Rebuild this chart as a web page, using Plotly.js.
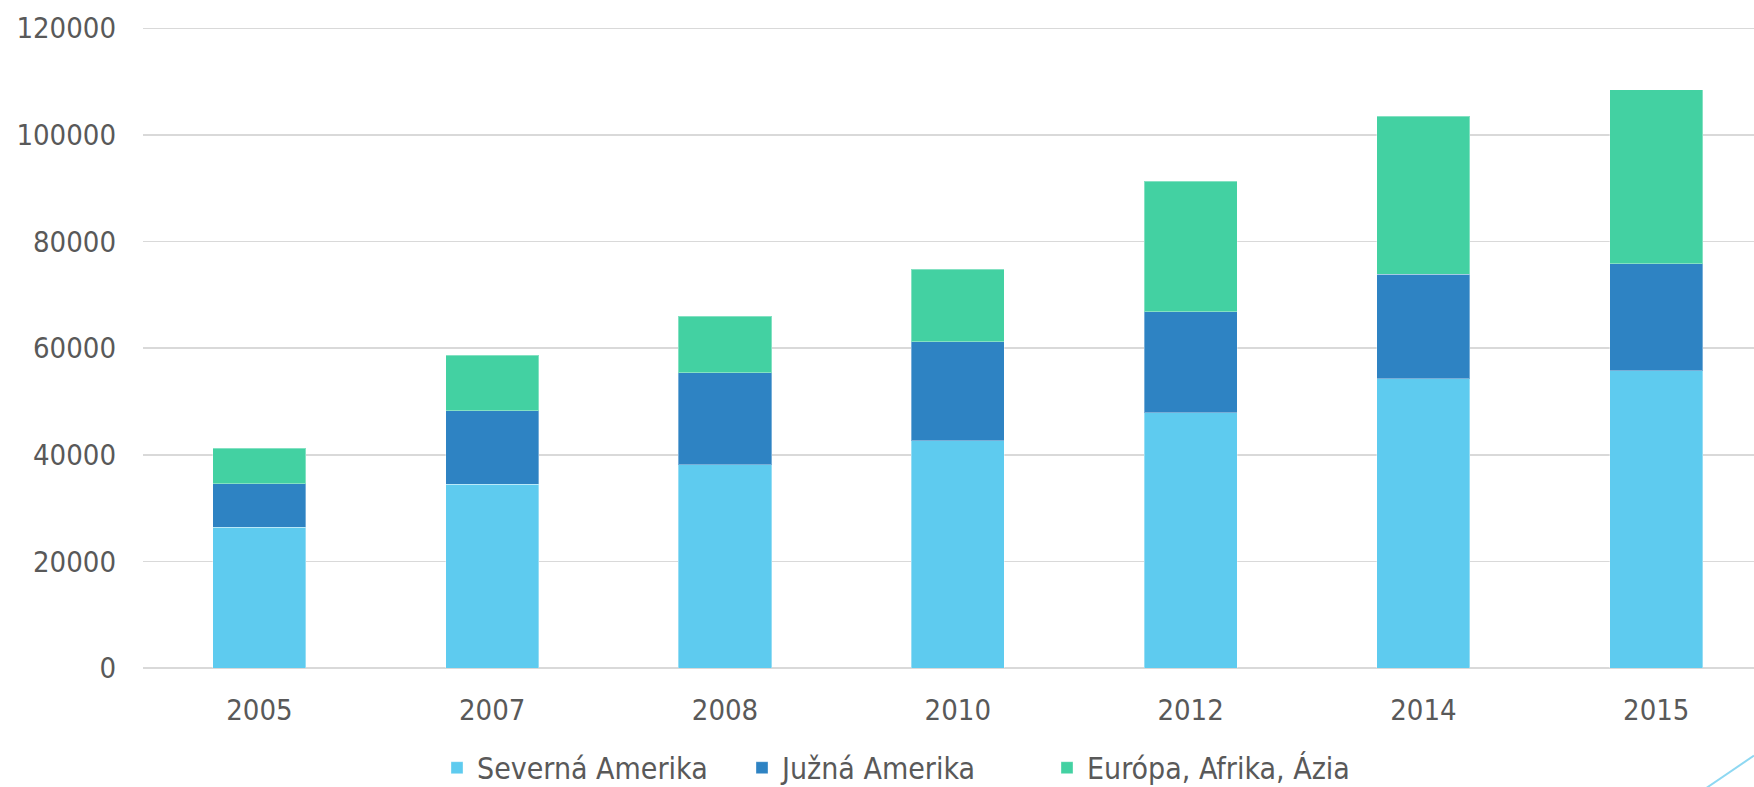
<!DOCTYPE html>
<html>
<head>
<meta charset="utf-8">
<script src="https://cdn.plot.ly/plotly-3.0.1.min.js"></script>
<style>html,body{margin:0;padding:0;background:#fff;}#chart{width:1754px;height:787px;}</style>
</head>
<body>
<div id="chart"></div>
<script>
const years = ["2005", "2007", "2008", "2010", "2012", "2014", "2015"];
const severnaAmerika = [26400, 34500, 38100, 42600, 47900, 54300, 55800];
const juznaAmerika = [8200, 13800, 17300, 18600, 18900, 19600, 20000];
const europaAfrikaAzia = [6600, 10400, 10600, 13600, 24500, 29600, 32700];
const seriesNames = ["Severná Amerika", "Južná Amerika", "Európa, Afrika, Ázia"];
const yTicks = [0, 20000, 40000, 60000, 80000, 100000, 120000];

const colors = ["#5ECBEF", "#2E83C3", "#43D1A2"];
const fontFam = "DejaVu Sans Condensed, DejaVu Sans, sans-serif";
const mk = (name, vals, c) => ({
  type: "bar", name: name, x: years, y: vals,
  marker: {color: c, line: {color: "rgba(255,255,255,0.35)", width: 1}},
  hoverinfo: "x+y+name"
});
const data = [
  mk(seriesNames[0], severnaAmerika, colors[0]),
  mk(seriesNames[1], juznaAmerika, colors[1]),
  mk(seriesNames[2], europaAfrikaAzia, colors[2])
];
const layout = {
  width: 1754, height: 787,
  margin: {l: 143, r: 0, t: 24, b: 119, pad: 0, autoexpand: false},
  barmode: "stack",
  bargap: 0.6,
  paper_bgcolor: "#fff", plot_bgcolor: "#fff",
  font: {family: fontFam, color: "#595959", size: 29},
  xaxis: {
    type: "category", range: [-0.5, 6.42],
    showgrid: false, zeroline: false, showline: false,
    ticks: "", ticklabelstandoff: 22,
    tickfont: {size: 29, color: "#595959"}
  },
  yaxis: {
    range: [0, 120800], tickvals: yTicks, ticktext: yTicks.map(String),
    showgrid: true, gridcolor: "#d9d9d9", gridwidth: 1.5,
    zeroline: true, zerolinecolor: "#d9d9d9", zerolinewidth: 1.5,
    showline: false, ticks: "", ticklabelstandoff: 26,
    tickfont: {size: 29, color: "#595959"}
  },
  legend: {
    orientation: "h", x: 0.1825, xanchor: "left", y: -0.1548, yanchor: "middle",
    font: {size: 30, color: "#595959"}, itemwidth: 30, traceorder: "normal",
    entrywidth: 260, entrywidthmode: "pixels",
    bgcolor: "rgba(0,0,0,0)"
  },
  showlegend: true,
  shapes: [{
    type: "line", xref: "paper", yref: "paper",
    x0: 0.9706, y0: -0.186, x1: 1.0, y1: -0.136,
    line: {color: "#8ED8F2", width: 2}
  }]
};
Plotly.newPlot("chart", data, layout, {displayModeBar: false, staticPlot: true});
</script>
</body>
</html>
